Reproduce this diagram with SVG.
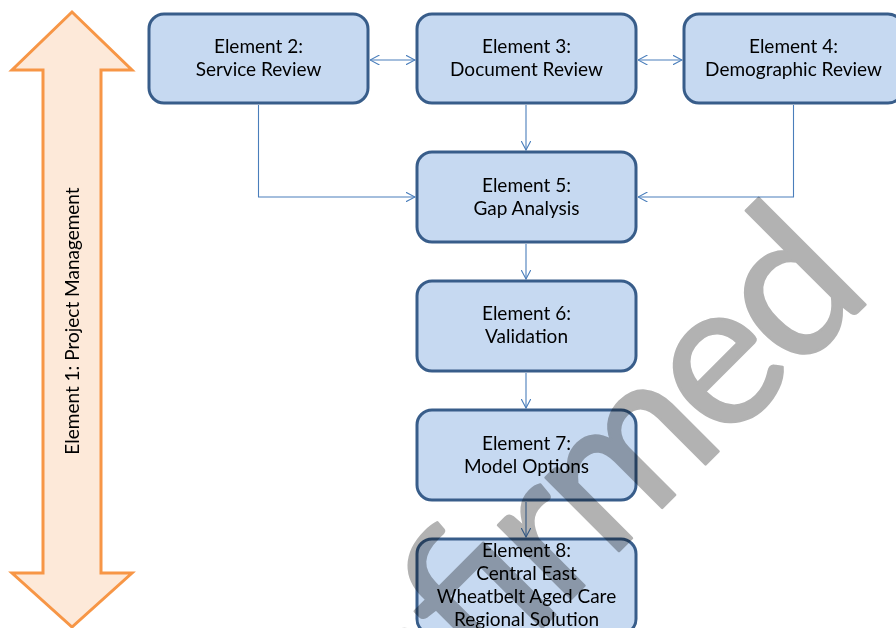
<svg xmlns="http://www.w3.org/2000/svg" width="896" height="628" viewBox="0 0 896 628">
  <defs>
    <marker id="arr" viewBox="0 0 10 10" refX="9.5" refY="5" markerWidth="10" markerHeight="10" markerUnits="userSpaceOnUse" orient="auto-start-reverse">
      <path d="M0,0 L9.5,5 L0,10" fill="none" stroke="#4a7ebb" stroke-width="1.1"/>
    </marker>
    <style>
      .box { fill: #c6d9f1; stroke: #385d8a; stroke-width: 3; }
      .lbl { font-family: Lato, "Liberation Sans", sans-serif; font-size: 19px; fill: #000; text-anchor: middle; }
      .conn { fill: none; stroke: #4a7ebb; stroke-width: 1.1; }
      .wm { font-family: Lato, "Liberation Sans", sans-serif; font-size: 205px; fill: #b2b2b2; stroke: #b2b2b2; stroke-width: 2.5; stroke-linejoin: round; mix-blend-mode: multiply; }
    </style>
  </defs>
  <rect x="0" y="0" width="896" height="628" fill="#ffffff"/>

  <g id="element1">
    <polygon points="72,12 132,70 101,70 101,573 132,573 72,627 12,573 43,573 43,70 12,70" fill="#fde9d9" stroke="#f79646" stroke-width="3" stroke-linejoin="miter"/>
    <text class="lbl" transform="translate(79,321) rotate(-90)" x="0" y="0">Element 1: Project Management</text>
  </g>

  <g id="connectors">
    <path class="conn" d="M370,60 H415" marker-start="url(#arr)" marker-end="url(#arr)"/>
    <path class="conn" d="M638,60 H682" marker-start="url(#arr)" marker-end="url(#arr)"/>
    <path class="conn" d="M526,105 V150" marker-end="url(#arr)"/>
    <path class="conn" d="M258.5,105 V197 H415" marker-end="url(#arr)"/>
    <path class="conn" d="M793.5,105 V197 H638" marker-end="url(#arr)"/>
    <path class="conn" d="M526,244 V279" marker-end="url(#arr)"/>
    <path class="conn" d="M526,373 V408" marker-end="url(#arr)"/>
    <path class="conn" d="M526,502 V537" marker-end="url(#arr)"/>
  </g>

  <g id="element2">
    <rect class="box" x="149" y="14" width="219" height="89" rx="15"/>
    <text class="lbl" x="258.5" y="53">Element 2:</text>
    <text class="lbl" x="258.5" y="76">Service Review</text>
  </g>
  <g id="element3">
    <rect class="box" x="417" y="14" width="219" height="89" rx="15"/>
    <text class="lbl" x="526.5" y="53">Element 3:</text>
    <text class="lbl" x="526.5" y="76">Document Review</text>
  </g>
  <g id="element4">
    <rect class="box" x="684" y="14" width="219" height="89" rx="15"/>
    <text class="lbl" x="793.5" y="53">Element 4:</text>
    <text class="lbl" x="793.5" y="76">Demographic Review</text>
  </g>
  <g id="element5">
    <rect class="box" x="417" y="152" width="219" height="90" rx="15"/>
    <text class="lbl" x="526.5" y="192">Element 5:</text>
    <text class="lbl" x="526.5" y="215">Gap Analysis</text>
  </g>
  <g id="element6">
    <rect class="box" x="417" y="281" width="219" height="90" rx="15"/>
    <text class="lbl" x="526.5" y="320">Element 6:</text>
    <text class="lbl" x="526.5" y="343">Validation</text>
  </g>
  <g id="element7">
    <rect class="box" x="417" y="410" width="219" height="90" rx="15"/>
    <text class="lbl" x="526.5" y="450">Element 7:</text>
    <text class="lbl" x="526.5" y="473">Model Options</text>
  </g>
  <g id="element8">
    <rect class="box" x="417" y="539" width="219" height="95" rx="15"/>
    <text class="lbl" x="526.5" y="557">Element 8:</text>
    <text class="lbl" x="526.5" y="580">Central East</text>
    <text class="lbl" x="526.5" y="603">Wheatbelt Aged Care</text>
    <text class="lbl" x="526.5" y="626">Regional Solution</text>
  </g>

  <text class="wm" transform="translate(585,585) rotate(-45)" x="-695" y="0" textLength="1106" lengthAdjust="spacing">Unconfirmed</text>
</svg>
